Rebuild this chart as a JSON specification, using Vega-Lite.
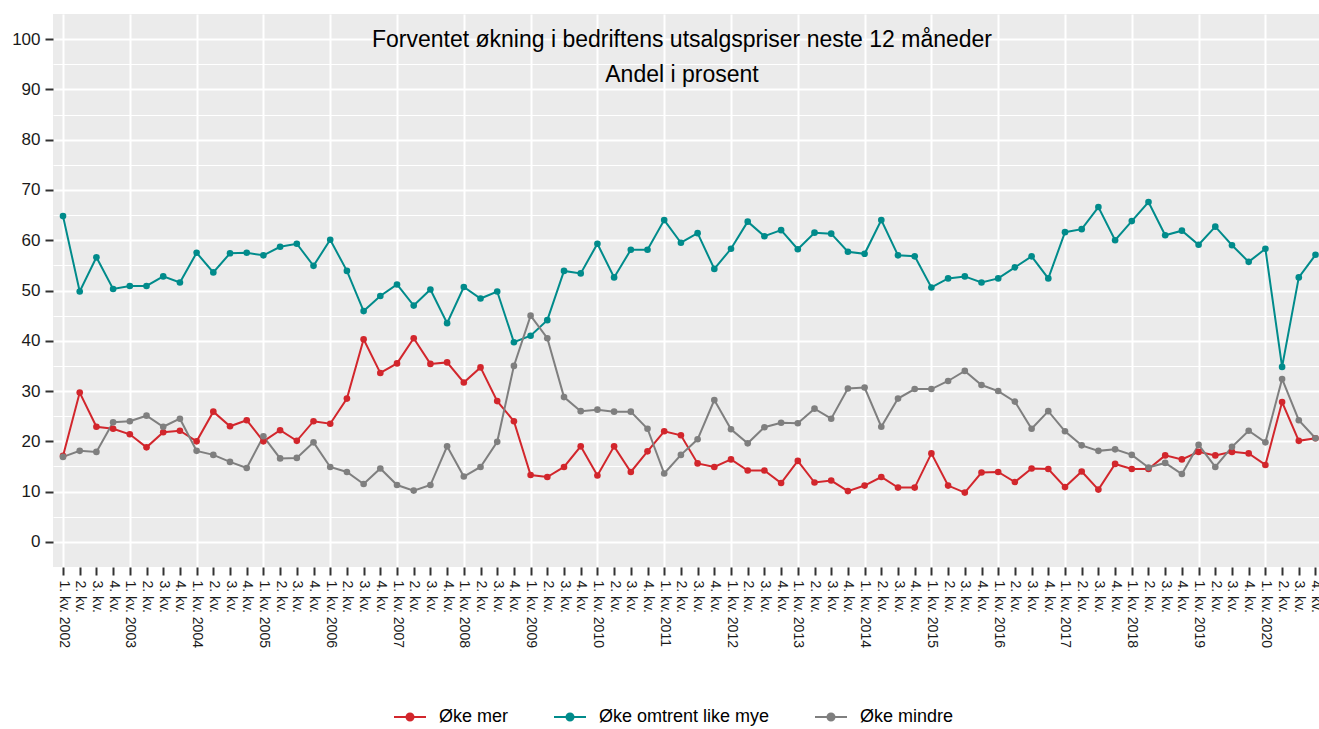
{
  "$schema": "https://vega.github.io/schema/vega-lite/v6.json",
  "width": 1266,
  "height": 553,
  "autosize": {"type": "none"},
  "padding": {"left": 53, "top": 14, "right": 0, "bottom": 162},
  "background": "white",
  "config": {"view": {"fill": "#EBEBEB", "stroke": null}, "font": "Liberation Sans"},
  "title": {
    "text": ["Forventet økning i bedriftens utsalgspriser neste 12 måneder", "Andel i prosent"],
    "fontSize": 23, "fontWeight": "normal", "color": "#000", "font": "Liberation Sans",
    "anchor": "middle", "frame": "group", "baseline": "top", "offset": -73, "lineHeight": 35, "dx": -4
  },
  "data": {"values": [
    {"t":0,"s":"Øke mer","v":17.1},{"t":1,"s":"Øke mer","v":29.7},{"t":2,"s":"Øke mer","v":22.9},{"t":3,"s":"Øke mer","v":22.5},
    {"t":4,"s":"Øke mer","v":21.4},{"t":5,"s":"Øke mer","v":18.8},{"t":6,"s":"Øke mer","v":21.8},{"t":7,"s":"Øke mer","v":22.1},
    {"t":8,"s":"Øke mer","v":20.0},{"t":9,"s":"Øke mer","v":25.9},{"t":10,"s":"Øke mer","v":23.0},{"t":11,"s":"Øke mer","v":24.2},
    {"t":12,"s":"Øke mer","v":20.0},{"t":13,"s":"Øke mer","v":22.2},{"t":14,"s":"Øke mer","v":20.1},{"t":15,"s":"Øke mer","v":24.0},
    {"t":16,"s":"Øke mer","v":23.5},{"t":17,"s":"Øke mer","v":28.5},{"t":18,"s":"Øke mer","v":40.3},{"t":19,"s":"Øke mer","v":33.6},
    {"t":20,"s":"Øke mer","v":35.5},{"t":21,"s":"Øke mer","v":40.5},{"t":22,"s":"Øke mer","v":35.4},{"t":23,"s":"Øke mer","v":35.7},
    {"t":24,"s":"Øke mer","v":31.7},{"t":25,"s":"Øke mer","v":34.7},{"t":26,"s":"Øke mer","v":28.0},{"t":27,"s":"Øke mer","v":24.0},
    {"t":28,"s":"Øke mer","v":13.3},{"t":29,"s":"Øke mer","v":12.9},{"t":30,"s":"Øke mer","v":14.9},{"t":31,"s":"Øke mer","v":19.0},
    {"t":32,"s":"Øke mer","v":13.2},{"t":33,"s":"Øke mer","v":19.0},{"t":34,"s":"Øke mer","v":13.9},{"t":35,"s":"Øke mer","v":18.0},
    {"t":36,"s":"Øke mer","v":22.0},{"t":37,"s":"Øke mer","v":21.2},{"t":38,"s":"Øke mer","v":15.6},{"t":39,"s":"Øke mer","v":14.9},
    {"t":40,"s":"Øke mer","v":16.4},{"t":41,"s":"Øke mer","v":14.2},{"t":42,"s":"Øke mer","v":14.2},{"t":43,"s":"Øke mer","v":11.7},
    {"t":44,"s":"Øke mer","v":16.1},{"t":45,"s":"Øke mer","v":11.8},{"t":46,"s":"Øke mer","v":12.2},{"t":47,"s":"Øke mer","v":10.1},
    {"t":48,"s":"Øke mer","v":11.2},{"t":49,"s":"Øke mer","v":12.9},{"t":50,"s":"Øke mer","v":10.8},{"t":51,"s":"Øke mer","v":10.8},
    {"t":52,"s":"Øke mer","v":17.6},{"t":53,"s":"Øke mer","v":11.2},{"t":54,"s":"Øke mer","v":9.8},{"t":55,"s":"Øke mer","v":13.8},
    {"t":56,"s":"Øke mer","v":13.9},{"t":57,"s":"Øke mer","v":11.9},{"t":58,"s":"Øke mer","v":14.6},{"t":59,"s":"Øke mer","v":14.5},
    {"t":60,"s":"Øke mer","v":10.9},{"t":61,"s":"Øke mer","v":14.0},{"t":62,"s":"Øke mer","v":10.4},{"t":63,"s":"Øke mer","v":15.5},
    {"t":64,"s":"Øke mer","v":14.5},{"t":65,"s":"Øke mer","v":14.5},{"t":66,"s":"Øke mer","v":17.2},{"t":67,"s":"Øke mer","v":16.4},
    {"t":68,"s":"Øke mer","v":17.9},{"t":69,"s":"Øke mer","v":17.2},{"t":70,"s":"Øke mer","v":17.9},{"t":71,"s":"Øke mer","v":17.6},
    {"t":72,"s":"Øke mer","v":15.3},{"t":73,"s":"Øke mer","v":27.8},{"t":74,"s":"Øke mer","v":20.1},{"t":75,"s":"Øke mer","v":20.6},

    {"t":0,"s":"Øke omtrent like mye","v":64.8},{"t":1,"s":"Øke omtrent like mye","v":49.8},{"t":2,"s":"Øke omtrent like mye","v":56.6},{"t":3,"s":"Øke omtrent like mye","v":50.3},
    {"t":4,"s":"Øke omtrent like mye","v":50.9},{"t":5,"s":"Øke omtrent like mye","v":50.9},{"t":6,"s":"Øke omtrent like mye","v":52.8},{"t":7,"s":"Øke omtrent like mye","v":51.6},
    {"t":8,"s":"Øke omtrent like mye","v":57.5},{"t":9,"s":"Øke omtrent like mye","v":53.6},{"t":10,"s":"Øke omtrent like mye","v":57.4},{"t":11,"s":"Øke omtrent like mye","v":57.5},
    {"t":12,"s":"Øke omtrent like mye","v":57.0},{"t":13,"s":"Øke omtrent like mye","v":58.7},{"t":14,"s":"Øke omtrent like mye","v":59.3},{"t":15,"s":"Øke omtrent like mye","v":54.9},
    {"t":16,"s":"Øke omtrent like mye","v":60.1},{"t":17,"s":"Øke omtrent like mye","v":53.9},{"t":18,"s":"Øke omtrent like mye","v":45.9},{"t":19,"s":"Øke omtrent like mye","v":48.9},
    {"t":20,"s":"Øke omtrent like mye","v":51.2},{"t":21,"s":"Øke omtrent like mye","v":47.0},{"t":22,"s":"Øke omtrent like mye","v":50.2},{"t":23,"s":"Øke omtrent like mye","v":43.5},
    {"t":24,"s":"Øke omtrent like mye","v":50.7},{"t":25,"s":"Øke omtrent like mye","v":48.4},{"t":26,"s":"Øke omtrent like mye","v":49.8},{"t":27,"s":"Øke omtrent like mye","v":39.7},
    {"t":28,"s":"Øke omtrent like mye","v":41.0},{"t":29,"s":"Øke omtrent like mye","v":44.1},{"t":30,"s":"Øke omtrent like mye","v":53.9},{"t":31,"s":"Øke omtrent like mye","v":53.4},
    {"t":32,"s":"Øke omtrent like mye","v":59.3},{"t":33,"s":"Øke omtrent like mye","v":52.6},{"t":34,"s":"Øke omtrent like mye","v":58.1},{"t":35,"s":"Øke omtrent like mye","v":58.1},
    {"t":36,"s":"Øke omtrent like mye","v":64.0},{"t":37,"s":"Øke omtrent like mye","v":59.5},{"t":38,"s":"Øke omtrent like mye","v":61.4},{"t":39,"s":"Øke omtrent like mye","v":54.3},
    {"t":40,"s":"Øke omtrent like mye","v":58.3},{"t":41,"s":"Øke omtrent like mye","v":63.7},{"t":42,"s":"Øke omtrent like mye","v":60.8},{"t":43,"s":"Øke omtrent like mye","v":62.0},
    {"t":44,"s":"Øke omtrent like mye","v":58.2},{"t":45,"s":"Øke omtrent like mye","v":61.5},{"t":46,"s":"Øke omtrent like mye","v":61.3},{"t":47,"s":"Øke omtrent like mye","v":57.7},
    {"t":48,"s":"Øke omtrent like mye","v":57.3},{"t":49,"s":"Øke omtrent like mye","v":64.0},{"t":50,"s":"Øke omtrent like mye","v":57.0},{"t":51,"s":"Øke omtrent like mye","v":56.8},
    {"t":52,"s":"Øke omtrent like mye","v":50.6},{"t":53,"s":"Øke omtrent like mye","v":52.4},{"t":54,"s":"Øke omtrent like mye","v":52.8},{"t":55,"s":"Øke omtrent like mye","v":51.6},
    {"t":56,"s":"Øke omtrent like mye","v":52.4},{"t":57,"s":"Øke omtrent like mye","v":54.6},{"t":58,"s":"Øke omtrent like mye","v":56.8},{"t":59,"s":"Øke omtrent like mye","v":52.4},
    {"t":60,"s":"Øke omtrent like mye","v":61.6},{"t":61,"s":"Øke omtrent like mye","v":62.2},{"t":62,"s":"Øke omtrent like mye","v":66.6},{"t":63,"s":"Øke omtrent like mye","v":60.0},
    {"t":64,"s":"Øke omtrent like mye","v":63.8},{"t":65,"s":"Øke omtrent like mye","v":67.6},{"t":66,"s":"Øke omtrent like mye","v":61.0},{"t":67,"s":"Øke omtrent like mye","v":61.9},
    {"t":68,"s":"Øke omtrent like mye","v":59.1},{"t":69,"s":"Øke omtrent like mye","v":62.7},{"t":70,"s":"Øke omtrent like mye","v":59.0},{"t":71,"s":"Øke omtrent like mye","v":55.7},
    {"t":72,"s":"Øke omtrent like mye","v":58.3},{"t":73,"s":"Øke omtrent like mye","v":34.8},{"t":74,"s":"Øke omtrent like mye","v":52.6},{"t":75,"s":"Øke omtrent like mye","v":57.1},

    {"t":0,"s":"Øke mindre","v":16.9},{"t":1,"s":"Øke mindre","v":18.1},{"t":2,"s":"Øke mindre","v":17.9},{"t":3,"s":"Øke mindre","v":23.8},
    {"t":4,"s":"Øke mindre","v":24.0},{"t":5,"s":"Øke mindre","v":25.1},{"t":6,"s":"Øke mindre","v":22.9},{"t":7,"s":"Øke mindre","v":24.5},
    {"t":8,"s":"Øke mindre","v":18.1},{"t":9,"s":"Øke mindre","v":17.3},{"t":10,"s":"Øke mindre","v":15.9},{"t":11,"s":"Øke mindre","v":14.7},
    {"t":12,"s":"Øke mindre","v":21.0},{"t":13,"s":"Øke mindre","v":16.6},{"t":14,"s":"Øke mindre","v":16.7},{"t":15,"s":"Øke mindre","v":19.8},
    {"t":16,"s":"Øke mindre","v":14.9},{"t":17,"s":"Øke mindre","v":13.9},{"t":18,"s":"Øke mindre","v":11.5},{"t":19,"s":"Øke mindre","v":14.6},
    {"t":20,"s":"Øke mindre","v":11.3},{"t":21,"s":"Øke mindre","v":10.2},{"t":22,"s":"Øke mindre","v":11.3},{"t":23,"s":"Øke mindre","v":19.0},
    {"t":24,"s":"Øke mindre","v":13.0},{"t":25,"s":"Øke mindre","v":14.9},{"t":26,"s":"Øke mindre","v":19.9},{"t":27,"s":"Øke mindre","v":35.0},
    {"t":28,"s":"Øke mindre","v":45.0},{"t":29,"s":"Øke mindre","v":40.5},{"t":30,"s":"Øke mindre","v":28.8},{"t":31,"s":"Øke mindre","v":26.0},
    {"t":32,"s":"Øke mindre","v":26.3},{"t":33,"s":"Øke mindre","v":25.9},{"t":34,"s":"Øke mindre","v":25.9},{"t":35,"s":"Øke mindre","v":22.5},
    {"t":36,"s":"Øke mindre","v":13.6},{"t":37,"s":"Øke mindre","v":17.3},{"t":38,"s":"Øke mindre","v":20.4},{"t":39,"s":"Øke mindre","v":28.2},
    {"t":40,"s":"Øke mindre","v":22.4},{"t":41,"s":"Øke mindre","v":19.6},{"t":42,"s":"Øke mindre","v":22.8},{"t":43,"s":"Øke mindre","v":23.7},
    {"t":44,"s":"Øke mindre","v":23.6},{"t":45,"s":"Øke mindre","v":26.5},{"t":46,"s":"Øke mindre","v":24.5},{"t":47,"s":"Øke mindre","v":30.5},
    {"t":48,"s":"Øke mindre","v":30.7},{"t":49,"s":"Øke mindre","v":22.9},{"t":50,"s":"Øke mindre","v":28.5},{"t":51,"s":"Øke mindre","v":30.4},
    {"t":52,"s":"Øke mindre","v":30.4},{"t":53,"s":"Øke mindre","v":32.0},{"t":54,"s":"Øke mindre","v":34.0},{"t":55,"s":"Øke mindre","v":31.2},
    {"t":56,"s":"Øke mindre","v":30.0},{"t":57,"s":"Øke mindre","v":27.9},{"t":58,"s":"Øke mindre","v":22.5},{"t":59,"s":"Øke mindre","v":26.0},
    {"t":60,"s":"Øke mindre","v":22.0},{"t":61,"s":"Øke mindre","v":19.2},{"t":62,"s":"Øke mindre","v":18.1},{"t":63,"s":"Øke mindre","v":18.4},
    {"t":64,"s":"Øke mindre","v":17.3},{"t":65,"s":"Øke mindre","v":14.8},{"t":66,"s":"Øke mindre","v":15.7},{"t":67,"s":"Øke mindre","v":13.5},
    {"t":68,"s":"Øke mindre","v":19.3},{"t":69,"s":"Øke mindre","v":14.9},{"t":70,"s":"Øke mindre","v":18.9},{"t":71,"s":"Øke mindre","v":22.1},
    {"t":72,"s":"Øke mindre","v":19.8},{"t":73,"s":"Øke mindre","v":32.4},{"t":74,"s":"Øke mindre","v":24.2},{"t":75,"s":"Øke mindre","v":20.6}
  ]},
  "encoding": {
    "x": {
      "field": "t", "type": "quantitative",
      "scale": {"domain": [-0.6, 75.21], "nice": false, "zero": false},
      "axis": {
        "values": [0,1,2,3,4,5,6,7,8,9,10,11,12,13,14,15,16,17,18,19,20,21,22,23,24,25,26,27,28,29,30,31,32,33,34,35,36,37,38,39,40,41,42,43,44,45,46,47,48,49,50,51,52,53,54,55,56,57,58,59,60,61,62,63,64,65,66,67,68,69,70,71,72,73,74,75],
        "labelExpr": "(datum.value % 4 + 1) + '. kv.' + (datum.value % 4 === 0 ? ' ' + (2002 + floor(datum.value / 4)) : '')",
        "labelAngle": 90, "labelAlign": "left", "labelBaseline": "middle",
        "labelFontSize": 14, "labelColor": "#1a1a1a", "labelFont": "Liberation Sans", "labelPadding": 5,
        "labelOverlap": false, "labelBound": false, "labelFlush": false,
        "tickSize": 8, "tickWidth": 2, "tickColor": "#333333",
        "domain": false, "grid": true, "gridColor": "#FFFFFF", "gridWidth": 2,
        "gridOpacity": {"condition": {"test": "datum.value % 4 === 0", "value": 1}, "value": 0},
        "title": null
      }
    },
    "y": {
      "field": "v", "type": "quantitative",
      "scale": {"domain": [-5, 105], "nice": false, "zero": false},
      "axis": {
        "values": [0,5,10,15,20,25,30,35,40,45,50,55,60,65,70,75,80,85,90,95,100],
        "labelExpr": "datum.value % 10 === 0 ? datum.label : ''",
        "labelFontSize": 17, "labelColor": "#1a1a1a", "labelFont": "Liberation Sans", "labelPadding": 5,
        "tickSize": 8, "tickWidth": 2, "tickColor": "#333333",
        "tickOpacity": {"condition": {"test": "datum.value % 10 === 0", "value": 1}, "value": 0},
        "domain": false, "grid": true, "gridColor": "#FFFFFF",
        "gridWidth": {"condition": {"test": "datum.value % 10 === 0", "value": 2}, "value": 1},
        "title": null
      }
    },
    "color": {
      "field": "s", "type": "nominal",
      "scale": {"domain": ["Øke mer", "Øke omtrent like mye", "Øke mindre"], "range": ["#D2262C", "#008B8B", "#7F7F7F"]},
      "legend": {
        "title": null, "orient": "none", "legendX": 340, "legendY": 686, "direction": "horizontal",
        "padding": 0, "labelLimit": 0,
        "symbolType": "M-1,0H1M-0.22,0A0.22,0.22,0,1,1,0.22,0A0.22,0.22,0,1,1,-0.22,0Z",
        "symbolSize": 1024, "symbolStrokeWidth": 2,
        "labelFontSize": 18, "labelColor": "#000000", "labelFont": "Liberation Sans",
        "labelOffset": 12, "columnPadding": 41,
        "encode": {"symbols": {"update": {"fill": {"scale": "color", "field": "value"}, "stroke": {"scale": "color", "field": "value"}, "opacity": {"value": 1}}}}
      }
    }
  },
  "layer": [
    {"mark": {"type": "line", "strokeWidth": 2}},
    {"mark": {"type": "point", "filled": true, "size": 44, "opacity": 1}}
  ]
}
